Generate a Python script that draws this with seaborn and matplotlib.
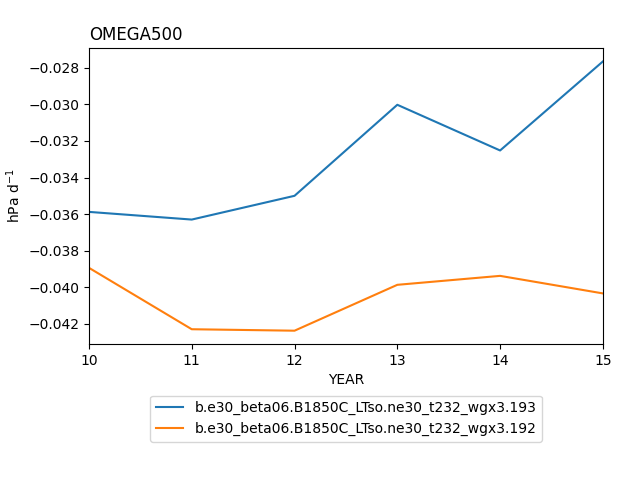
import matplotlib
matplotlib.use("Agg")
import matplotlib.pyplot as plt
import seaborn as sns
import pandas as pd

years = [10, 11, 12, 13, 14, 15]
case_193 = [-0.03588, -0.03630, -0.03500, -0.03002, -0.03252, -0.02765]
case_192 = [-0.03894, -0.04230, -0.04238, -0.03987, -0.03938, -0.04034]
labels = ["b.e30_beta06.B1850C_LTso.ne30_t232_wgx3.193",
          "b.e30_beta06.B1850C_LTso.ne30_t232_wgx3.192"]

df = pd.DataFrame({
    "YEAR": years * 2,
    "val": case_193 + case_192,
    "case": [labels[0]] * len(years) + [labels[1]] * len(years),
})

fig = plt.figure(figsize=(6.4, 4.8), dpi=100)
ax = fig.add_axes([0.139, 0.283, 0.803, 0.617])
sns.lineplot(data=df, x="YEAR", y="val", hue="case", ax=ax,
             palette=["#1f77b4", "#ff7f0e"])
ax.set_xlim(10, 15)
ax.set_xlabel("YEAR")
ax.set_ylabel("hPa d$^{-1}$")
ax.set_title("OMEGA500", loc="left")
ax.legend(loc="upper center", bbox_to_anchor=(0.5, -0.15), title=None)
fig.savefig("out.png", dpi=100)
